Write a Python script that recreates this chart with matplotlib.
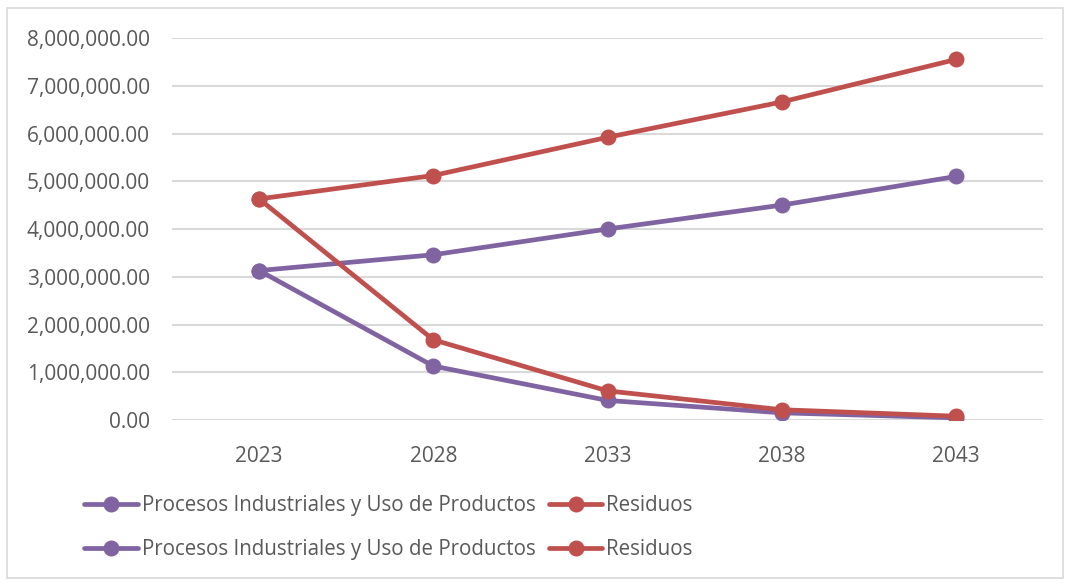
import matplotlib.pyplot as plt
from matplotlib.patches import Rectangle
from matplotlib.ticker import FuncFormatter

years = ['2023', '2028', '2033', '2038', '2043']
procesos_alto = [3130000, 3460000, 4000000, 4500000, 5100000]
residuos_alto = [4630000, 5120000, 5920000, 6660000, 7550000]
procesos_bajo = [3130000, 1130000, 410000, 150000, 45000]
residuos_bajo = [4630000, 1680000, 610000, 215000, 80000]
label_p = 'Procesos Industriales y Uso de Productos'
label_r = 'Residuos'

purple = '#8064A2'
red = '#C0504D'
text_color = '#595959'

plt.rcParams['font.family'] = ['Open Sans', 'DejaVu Sans']

fig = plt.figure(figsize=(10.71, 5.86), dpi=100)
ax = fig.add_axes([172 / 1071, 1 - 420 / 586, (1043 - 172) / 1071, (420 - 38) / 586])

x = list(range(len(years)))
style = dict(linewidth=3.4, marker='o', markersize=10.5, solid_capstyle='round')
h1, = ax.plot(x, procesos_alto, color=purple, label=label_p, **style)
h2, = ax.plot(x, residuos_alto, color=red, label=label_r, **style)
h3, = ax.plot(x, procesos_bajo, color=purple, label=label_p, **style)
h4, = ax.plot(x, residuos_bajo, color=red, label=label_r, **style)

ax.set_xlim(-0.5, len(years) - 0.5)
ax.set_ylim(0, 8000000)
ax.set_xticks(x)
ax.set_xticklabels(years)
ax.set_yticks(range(0, 8000001, 1000000))
ax.yaxis.set_major_formatter(FuncFormatter(lambda v, p: f'{v:,.2f}'))
ax.grid(axis='y', color='#D9D9D9', linewidth=1.5)
ax.set_axisbelow(True)
for s in ax.spines.values():
    s.set_visible(False)
ax.tick_params(length=0, labelsize=15, colors=text_color)
ax.tick_params(axis='y', pad=16)
ax.tick_params(axis='x', pad=19)

fig.legend(handles=[h1, h3, h2, h4], labels=[label_p, label_p, label_r, label_r],
           ncol=2, loc='upper left', bbox_to_anchor=(76 / 1071, 1 - 487 / 586),
           frameon=False, fontsize=14.8, labelcolor=text_color,
           handlelength=2.6, handletextpad=0.2, columnspacing=0.65, labelspacing=1.12,
           borderaxespad=0)

fig.patches.append(Rectangle((7 / 1071, 8 / 586), 1056 / 1071, 570 / 586,
                             transform=fig.transFigure, fill=False,
                             edgecolor='#D9D9D9', linewidth=1.2))

fig.savefig('out.png', dpi=100, facecolor='white')
